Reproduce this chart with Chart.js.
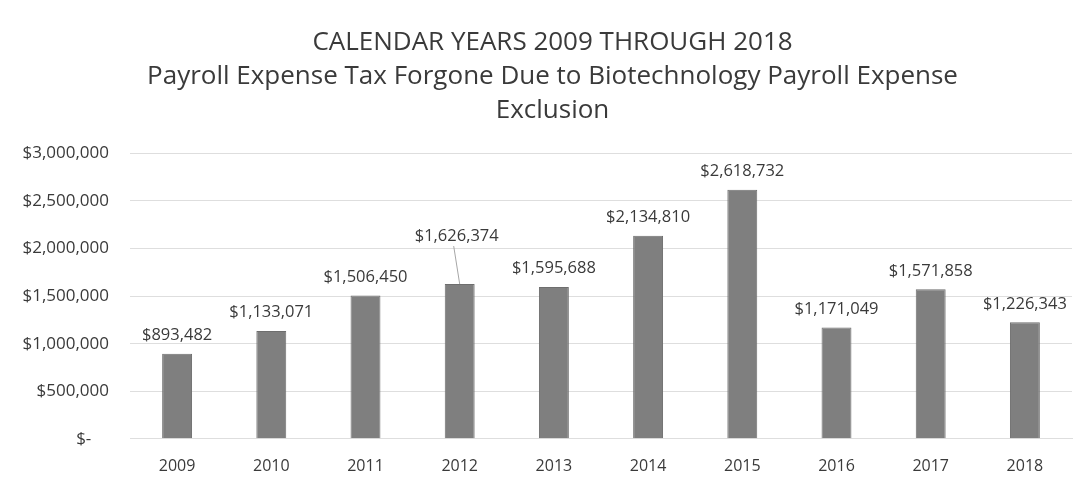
<!DOCTYPE html>
<html>
<head>
<meta charset="utf-8">
<script src="https://cdn.jsdelivr.net/npm/chart.js@4/dist/chart.umd.min.js"></script>
<style>
  html, body { margin: 0; padding: 0; background: #fff; }
  #wrap { width: 1081px; height: 487px; }
</style>
</head>
<body>
<div id="wrap"><canvas id="chart"></canvas></div>
<script>
// --- Data ---
const years = ['2009', '2010', '2011', '2012', '2013', '2014', '2015', '2016', '2017', '2018'];
const taxForgone = [893482, 1133071, 1506450, 1626374, 1595688, 2134810, 2618732, 1171049, 1571858, 1226343];
const titleLines = [
  'CALENDAR YEARS 2009 THROUGH 2018',
  'Payroll Expense Tax Forgone Due to Biotechnology Payroll Expense',
  'Exclusion'
];

const fontFamily = "'Open Sans', 'Noto Sans', sans-serif";
const textColor = '#3a3a3a';

function money(v) {
  if (v === 0) return '$-    ';
  return '$' + v.toLocaleString('en-US');
}

// Data labels drawn above each bar; the 2012 one sits higher with a leader line
const barLabels = {
  id: 'barLabels',
  afterLayout(chart) {
    // title sits a bit right of the canvas centre in the original
    chart.titleBlock.left += 32;
  },
  afterDatasetsDraw(chart) {
    const ctx = chart.ctx;
    const meta = chart.getDatasetMeta(0);
    ctx.save();
    ctx.font = '16.5px ' + fontFamily;
    ctx.fillStyle = textColor;
    ctx.textAlign = 'center';
    ctx.textBaseline = 'bottom';
    meta.data.forEach((bar, i) => {
      const v = chart.data.datasets[0].data[i];
      let x = bar.x, y = bar.y - 10;
      if (i === 3) {
        x = bar.x - 3;
        y = bar.y - 40;
        ctx.strokeStyle = '#a6a6a6';
        ctx.lineWidth = 1;
        ctx.beginPath();
        ctx.moveTo(bar.x - 6, y + 2);
        ctx.lineTo(bar.x, bar.y);
        ctx.stroke();
      }
      ctx.fillText(money(v), x, y);
    });
    ctx.restore();
  }
};

new Chart(document.getElementById('chart'), {
  type: 'bar',
  data: {
    labels: years,
    datasets: [{
      data: taxForgone,
      backgroundColor: '#7f7f7f',
      borderColor: '#6e6e6e',
      borderWidth: 1,
      barPercentage: 0.635,
      categoryPercentage: 0.5
    }]
  },
  options: {
    responsive: true, maintainAspectRatio: false, animation: false,
    layout: { padding: { left: 1, right: 9, top: 26, bottom: 1 } },
    plugins: {
      legend: { display: false },
      tooltip: { enabled: false },
      title: {
        display: true, text: titleLines, color: textColor,
        font: { family: fontFamily, size: 26, weight: 'normal', lineHeight: 1.3 },
        padding: { top: 0, bottom: 26 }
      }
    },
    scales: {
      y: {
        min: 0, max: 3000000,
        afterFit: (s) => { s.width = 129; },
        ticks: { stepSize: 500000, color: textColor, padding: 21, font: { family: fontFamily, size: 17 }, callback: (v) => money(v) },
        grid: { color: '#dedede', drawTicks: false },
        border: { display: false }
      },
      x: {
        ticks: { color: textColor, padding: 10, font: { family: fontFamily, size: 16 } },
        grid: { display: false },
        border: { color: '#dedede' }
      }
    }
  },
  plugins: [barLabels]
});
</script>
</body>
</html>
